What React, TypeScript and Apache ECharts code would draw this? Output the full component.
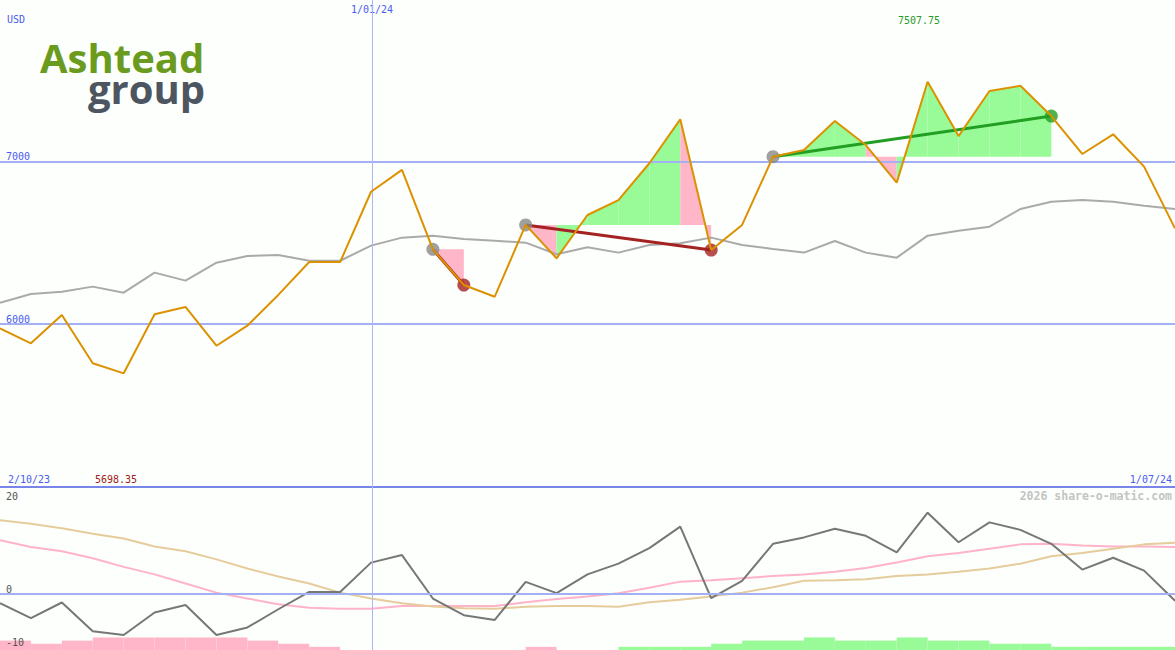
import React, { useEffect, useRef } from "react";
import * as echarts from "echarts";

// ---------- data ----------
const currency = "USD";
const startLabel = "2/10/23";
const endLabel = "1/07/24";
const newYearLabel = "1/01/24";
const newYearPos = 12.03; // position of 1 Jan 2024 on the weekly index axis
const watermark = "2026 share-o-matic.com";
const brandTop = "Ashtead";
const brandBottom = "group";

const priceTicks = [6000, 7000];
const oscZeroTick = [0];
const oscTopTick = "20";
const oscBottomTick = "-10";

const periodHigh = 7507.75;
const periodLow = 5698.35;

// weekly closing price (USD)
const price = [
  5975, 5883, 6057, 5760, 5698.35, 6061, 6106, 5868, 5991, 6180,
  6382, 6382, 6814, 6948, 6460, 6241, 6169, 6610, 6405, 6671,
  6763, 6989, 7259, 6456, 6610, 7029, 7070, 7249, 7101, 6870,
  7490, 7156, 7433, 7465, 7279, 7046, 7167, 6968, 6589,
];
// moving average
const priceMA = [
  6132, 6186, 6200, 6231, 6194, 6317, 6268, 6378, 6419, 6425,
  6390, 6390, 6483, 6532, 6544, 6524, 6513, 6501, 6430, 6473,
  6440, 6487, 6497, 6532, 6487, 6462, 6440, 6511, 6440, 6409,
  6544, 6575, 6599, 6708, 6753, 6763, 6753, 6728, 6708,
];
// lower panel oscillators
const oscMain = [
  -1.67, -4.44, -1.54, -6.9, -7.6, -3.4, -2.0, -7.6, -6.2, -2.8,
  0.43, 0.43, 5.9, 7.3, -0.8, -3.9, -4.8, 2.3, 0.2, 3.7,
  5.7, 8.6, 12.6, -0.74, 2.5, 9.4, 10.6, 12.2, 10.9, 7.8,
  15.2, 9.7, 13.4, 12.0, 9.4, 4.6, 6.8, 4.4, -1.2,
];
const oscPink = [
  10.06, 8.8, 8.0, 6.7, 5.1, 3.7, 2.0, 0.3, -0.8, -1.85,
  -2.5, -2.7, -2.7, -2.2, -2.2, -2.2, -2.2, -1.5, -0.9, -0.4,
  0.2, 1.2, 2.35, 2.6, 3.0, 3.4, 3.7, 4.2, 4.9, 5.9,
  7.1, 7.7, 8.5, 9.3, 9.4, 9.1, 8.9, 8.9, 8.8,
];
const oscTan = [
  13.8, 13.15, 12.3, 11.3, 10.4, 8.9, 8.0, 6.5, 4.8, 3.3,
  2.0, 0.3, -0.8, -1.67, -2.3, -2.6, -2.7, -2.35, -2.2, -2.2,
  -2.35, -1.5, -1.05, -0.4, 0.3, 1.3, 2.5, 2.6, 2.8, 3.4,
  3.7, 4.2, 4.8, 5.7, 7.1, 7.7, 8.5, 9.3, 9.6,
];
// weekly strength bars (negative = pink, positive = green), one per interval
const histogram = [
  -3, -2, -3, -4, -4, -4, -4, -4, -3, -2,
  -1, 0, 0, 0, 0, 0, 0, -1, 0, 0,
  1, 1, 1, 2, 3, 3, 4, 3, 3, 4,
  3, 3, 2, 2, 1, 1, 1, 1,
];
// trend windows (indices into price)
const trendStart = [14, 17, 25];
const trendEnd = [15, 23, 34];

// ---------- styles ----------
const BLUE_TEXT = "#4b5cf0";
const GRID_BLUE = "#a3b0f3";
const SEP_BLUE = "#7886ea";
const VLINE = "#aab6f7";
const ORANGE = "#dc9200";
const MA_GRAY = "#aaaaaa";
const FILL_GREEN = "#98fb98";
const FILL_PINK = "#ffb6c8";
const RED = "#a52222";
const GREEN = "#229f22";
const MONO = "DejaVu Sans Mono";

function lastIndex() {
  return price.length - 1;
}

export default function App() {
  const ref = useRef<HTMLDivElement | null>(null);

  useEffect(() => {
    if (!ref.current) return;
    const chart = echarts.init(ref.current, null, { renderer: "svg" });

    const idx = price.map((_, i) => i);
    const fillData: number[][] = [];
    trendStart.forEach((s, t) => {
      const e = trendEnd[t];
      const level = price[s];
      for (let k = s; k < e; k++) {
        fillData.push([k, price[k], k + 1, price[k + 1], level, price[k + 1] >= level ? 1 : 0]);
      }
    });

    const trendSeries = trendStart.map((s, t) => {
      const e = trendEnd[t];
      const up = price[e] >= price[s];
      return {
        type: "line",
        xAxisIndex: 0,
        yAxisIndex: 0,
        data: [
          [s, price[s]],
          [e, price[e]],
        ],
        showSymbol: false,
        lineStyle: { color: up ? GREEN : RED, width: 3 },
        z: 4,
        silent: true,
      };
    });

    const markerData: any[] = [];
    trendStart.forEach((s, t) => {
      const e = trendEnd[t];
      const up = price[e] >= price[s];
      markerData.push({ value: [s, price[s]], itemStyle: { color: "#888888" } });
      markerData.push({ value: [e, price[e]], itemStyle: { color: up ? GREEN : RED } });
    });

    const vLine = {
      silent: true,
      symbol: ["none", "none"],
      label: { show: false },
      lineStyle: { type: "solid", color: VLINE, width: 1 },
      data: [{ xAxis: newYearPos }],
    };

    const txt = (x: number, y: number, text: string, fill: string, align = "left", font = `10px ${MONO}`) => ({
      type: "text",
      x,
      y,
      z: 100,
      silent: true,
      style: { text, fill, font, align, verticalAlign: "middle" },
    });

    chart.setOption({
      animation: false,
      backgroundColor: "#fcfffb",
      grid: [
        { left: 0, right: 0, top: 0, height: 487 },
        { left: 0, right: 0, top: 487, height: 163 },
      ],
      xAxis: [
        {
          type: "value",
          gridIndex: 0,
          position: "top",
          min: 0,
          max: lastIndex(),
          splitLine: { show: false },
          axisLine: { show: false },
          axisTick: { show: false },
          axisLabel: {
            inside: true,
            customValues: [newYearPos],
            formatter: () => newYearLabel,
            margin: 4,
            color: BLUE_TEXT,
            fontFamily: MONO,
            fontSize: 10,
          },
        },
        {
          type: "value",
          gridIndex: 0,
          position: "bottom",
          min: 0,
          max: lastIndex(),
          splitLine: { show: false },
          axisLine: { show: true, lineStyle: { color: SEP_BLUE, width: 2 } },
          axisTick: { show: false },
          axisLabel: { show: false },
        },
        {
          type: "value",
          gridIndex: 1,
          min: 0,
          max: lastIndex(),
          show: false,
        },
        {
          type: "category",
          gridIndex: 1,
          data: histogram.map((_, i) => String(i)),
          boundaryGap: true,
          show: false,
        },
      ],
      yAxis: [
        {
          type: "value",
          gridIndex: 0,
          min: 5000,
          max: 7992,
          splitLine: { show: false },
          axisLine: { show: false },
          axisTick: { show: false },
          axisLabel: {
            inside: true,
            customValues: priceTicks,
            formatter: (v: number) => String(v),
            verticalAlign: "bottom",
            margin: 6,
            color: BLUE_TEXT,
            fontFamily: MONO,
            fontSize: 10,
          },
        },
        {
          type: "value",
          gridIndex: 1,
          min: -10.4,
          max: 20,
          splitLine: { show: false },
          axisLine: { show: false },
          axisTick: { show: false },
          axisLabel: {
            inside: true,
            customValues: oscZeroTick,
            formatter: (v: number) => String(v),
            verticalAlign: "bottom",
            margin: 6,
            color: "#555555",
            fontFamily: MONO,
            fontSize: 10,
          },
        },
        {
          type: "value",
          gridIndex: 1,
          min: 0,
          max: 52,
          show: false,
        },
      ],
      series: [
        {
          type: "custom",
          xAxisIndex: 0,
          yAxisIndex: 0,
          data: fillData,
          encode: { x: [0, 2], y: [1, 3] },
          silent: true,
          z: 1,
          renderItem: (params: any, api: any) => {
            const x0 = api.value(0);
            const y0 = api.value(1);
            const x1 = api.value(2);
            const y1 = api.value(3);
            const lv = api.value(4);
            const up = api.value(5);
            return {
              type: "polygon",
              shape: {
                points: [api.coord([x0, lv]), api.coord([x0, y0]), api.coord([x1, y1]), api.coord([x1, lv])],
              },
              style: { fill: up ? FILL_GREEN : FILL_PINK, stroke: null },
            };
          },
        },
        {
          type: "line",
          xAxisIndex: 0,
          yAxisIndex: 0,
          data: priceMA.map((v, i) => [idx[i], v]),
          showSymbol: false,
          lineStyle: { color: MA_GRAY, width: 2 },
          z: 3,
          silent: true,
          markLine: {
            silent: true,
            symbol: ["none", "none"],
            label: { show: false },
            lineStyle: { type: "solid", color: GRID_BLUE, width: 2 },
            data: priceTicks.map((v) => ({ yAxis: v })),
          },
        },
        {
          type: "line",
          xAxisIndex: 0,
          yAxisIndex: 0,
          data: [],
          z: 2,
          silent: true,
          markLine: vLine,
        },
        ...trendSeries,
        {
          type: "scatter",
          xAxisIndex: 0,
          yAxisIndex: 0,
          data: markerData,
          symbol: "circle",
          symbolSize: 13,
          z: 5,
          silent: true,
        },
        {
          type: "line",
          xAxisIndex: 0,
          yAxisIndex: 0,
          data: price.map((v, i) => [idx[i], v]),
          showSymbol: false,
          lineStyle: { color: ORANGE, width: 2 },
          z: 6,
          silent: true,
        },
        // lower panel
        {
          type: "bar",
          xAxisIndex: 3,
          yAxisIndex: 2,
          data: histogram.map((v) => ({
            value: Math.abs(v),
            itemStyle: { color: v < 0 ? FILL_PINK : FILL_GREEN },
          })),
          barWidth: "100%",
          barCategoryGap: 0,
          silent: true,
          z: 1,
        },
        {
          type: "line",
          xAxisIndex: 2,
          yAxisIndex: 1,
          data: oscPink.map((v, i) => [idx[i], v]),
          showSymbol: false,
          lineStyle: { color: "#ffb3c9", width: 2 },
          z: 3,
          silent: true,
          markLine: {
            silent: true,
            symbol: ["none", "none"],
            label: { show: false },
            lineStyle: { type: "solid", color: GRID_BLUE, width: 2 },
            data: [{ yAxis: 0 }],
          },
        },
        {
          type: "line",
          xAxisIndex: 2,
          yAxisIndex: 1,
          data: oscTan.map((v, i) => [idx[i], v]),
          showSymbol: false,
          lineStyle: { color: "#e6cc9c", width: 2 },
          z: 3,
          silent: true,
          markLine: vLine,
        },
        {
          type: "line",
          xAxisIndex: 2,
          yAxisIndex: 1,
          data: oscMain.map((v, i) => [idx[i], v]),
          showSymbol: false,
          lineStyle: { color: "#777777", width: 2 },
          z: 4,
          silent: true,
        },
      ],
      graphic: [
        {
          type: "text",
          left: 7,
          top: 14,
          z: 100,
          silent: true,
          style: { text: currency, fill: BLUE_TEXT, font: `10px ${MONO}` },
        },
        {
          type: "text",
          x: 40,
          y: 42,
          z: 100,
          silent: true,
          style: {
            text: `{a|${brandTop}}\n{b|${brandBottom}}`,
            verticalAlign: "top",
            rich: {
              a: {
                fill: "#6b9b1e",
                fontSize: 40,
                fontWeight: "bold",
                fontFamily: "Open Sans",
                lineHeight: 31,
              },
              b: {
                fill: "#4d5660",
                fontSize: 40,
                fontWeight: "bold",
                fontFamily: "Open Sans",
                lineHeight: 31,
                padding: [0, 0, 0, 48],
              },
            },
          },
        },
        txt(8, 479, startLabel, BLUE_TEXT),
        txt(116, 479, periodLow.toFixed(2), "#a02020", "center"),
        txt(919, 20, periodHigh.toFixed(2), "#2a9a2a", "center"),
        txt(1172, 479, endLabel, BLUE_TEXT, "right"),
        txt(1172, 496, watermark, "#c4c4c4", "right", `bold 11.5px ${MONO}`),
        txt(6, 496, oscTopTick, "#555555"),
        txt(6, 642, oscBottomTick, "#555555"),
      ],
    });

    return () => chart.dispose();
  }, []);

  return (
    <div
      ref={ref}
      style={{ position: "fixed", left: 0, top: 0, width: 1175, height: 650 }}
    />
  );
}
